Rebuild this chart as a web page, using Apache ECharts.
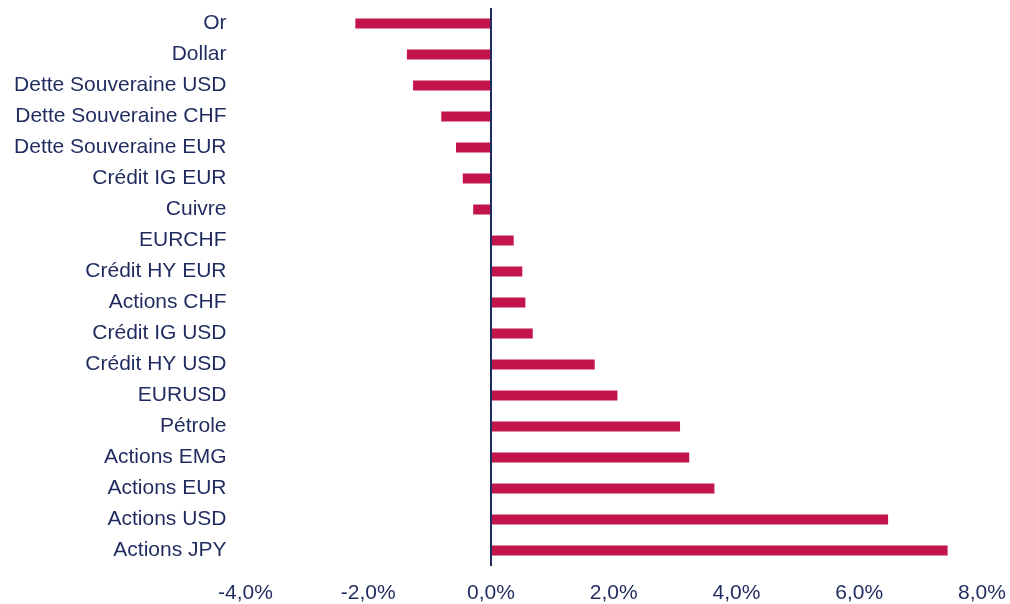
<!DOCTYPE html>
<html>
<head>
<meta charset="utf-8">
<script src="https://cdn.jsdelivr.net/npm/echarts@6/dist/echarts.min.js"></script>
<style>
  html, body { margin: 0; padding: 0; background: #fff; }
  #chart { width: 1010px; height: 604px; }
</style>
</head>
<body>
<div id="chart"></div>
<script>
  // catégories, du haut vers le bas
  const categories = ['Or', 'Dollar', 'Dette Souveraine USD', 'Dette Souveraine CHF', 'Dette Souveraine EUR',
    'Crédit IG EUR', 'Cuivre', 'EURCHF', 'Crédit HY EUR', 'Actions CHF', 'Crédit IG USD',
    'Crédit HY USD', 'EURUSD', 'Pétrole', 'Actions EMG', 'Actions EUR', 'Actions USD', 'Actions JPY'];
  const values = [-2.21, -1.37, -1.27, -0.81, -0.57, -0.46, -0.29, 0.37, 0.51, 0.56, 0.68,
    1.69, 2.06, 3.08, 3.23, 3.64, 6.47, 7.44];
  const xTicks = [-4, -2, 0, 2, 4, 6, 8];

  const navy = '#1f2b5e';
  const myChart = echarts.init(document.getElementById('chart'));
  const option = {
    animation: false,
    grid: {
      left: 245.5,
      right: 28,
      top: 8,
      bottom: 38
    },
    xAxis: {
      type: 'value',
      min: xTicks[0],
      max: xTicks[xTicks.length - 1],
      interval: 2,
      axisLine: { show: false },
      axisTick: { show: false },
      splitLine: { show: false },
      axisLabel: {
        color: navy,
        fontFamily: 'Liberation Sans, Arial',
        fontSize: 21,
        margin: 17,
        formatter: function (v) {
          return v.toFixed(1).replace('.', ',') + '%';
        }
      }
    },
    yAxis: {
      type: 'category',
      inverse: true,
      data: categories,
      axisLine: { show: false, onZero: false },
      axisTick: { show: false },
      axisLabel: {
        color: navy,
        fontFamily: 'Liberation Sans, Arial',
        fontSize: 21,
        margin: 19
      }
    },
    series: [{
      type: 'bar',
      data: values,
      barWidth: 10,
      itemStyle: { color: '#c1154b' },
      markLine: {
        silent: true,
        symbol: 'none',
        label: { show: false },
        lineStyle: { color: navy, width: 2, type: 'solid' },
        data: [{ xAxis: 0 }]
      }
    }]
  };
  myChart.setOption(option);
</script>
</body>
</html>
